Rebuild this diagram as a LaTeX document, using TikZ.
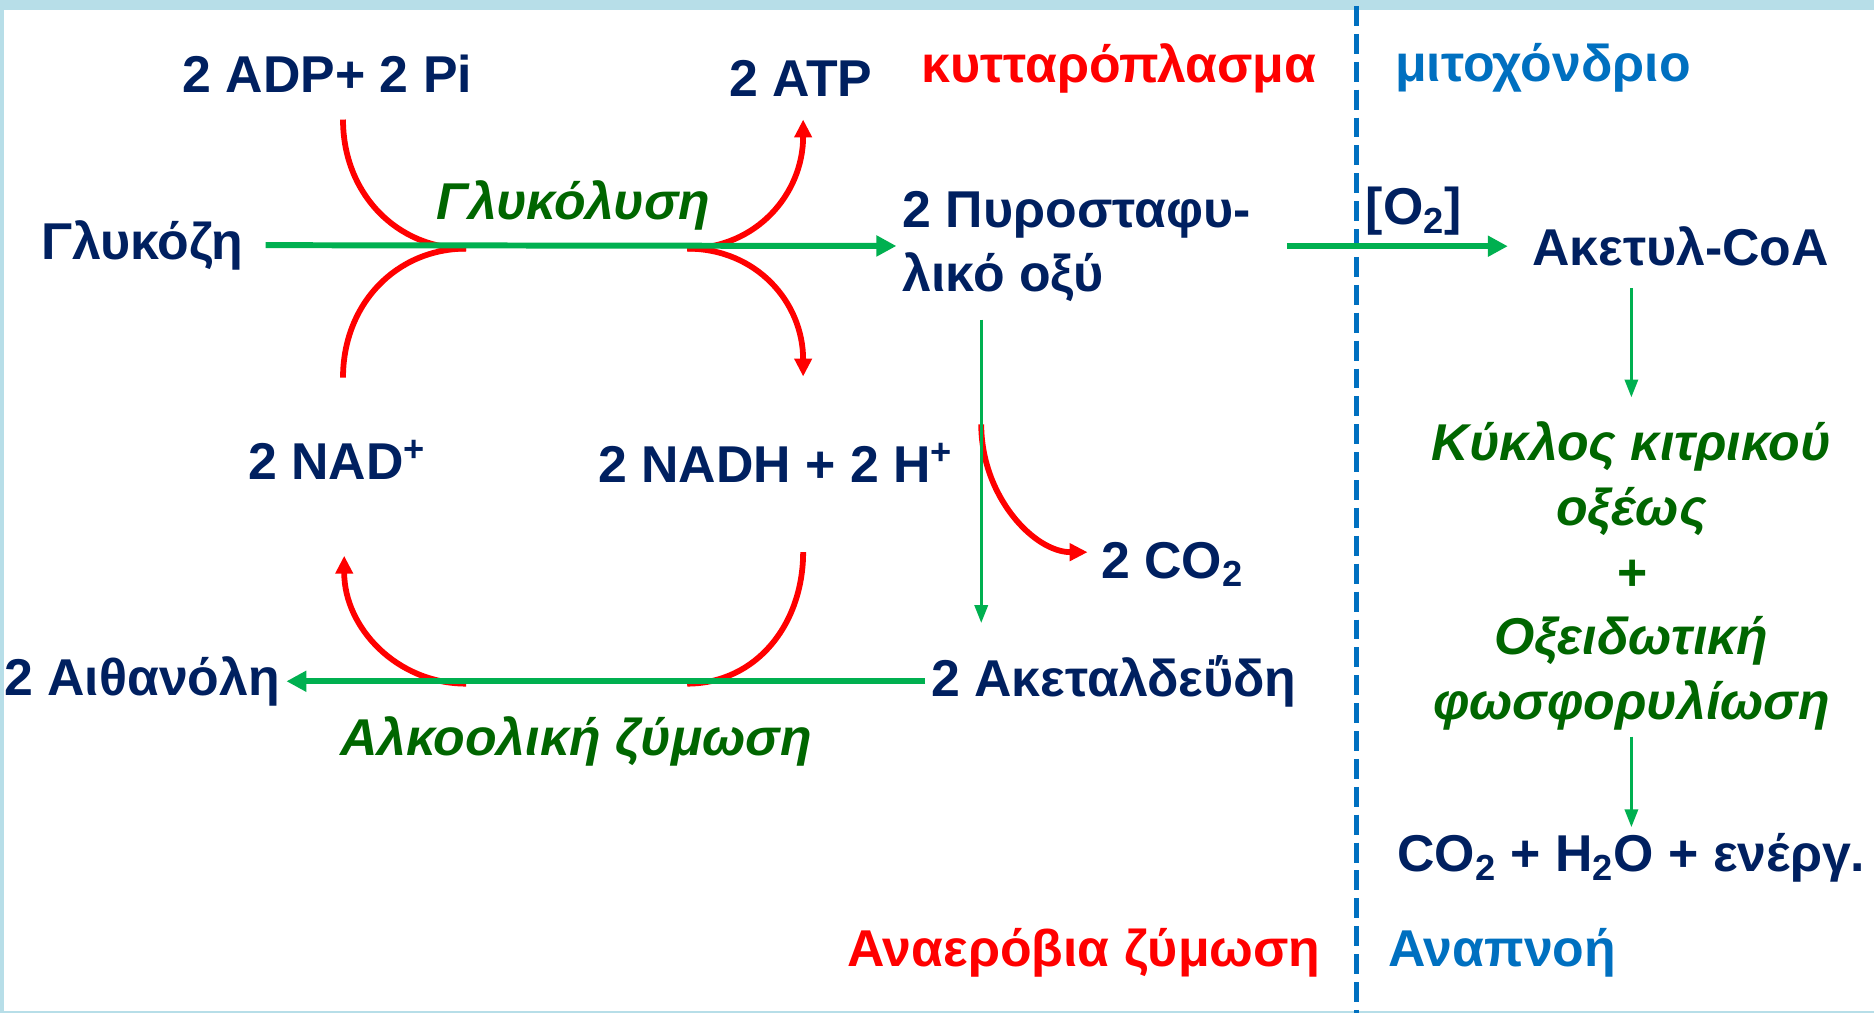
\documentclass[tikz,border=0pt]{standalone}
\usepackage{fontspec}
\setmainfont{Liberation Sans}
\usepackage{xcolor}
\usetikzlibrary{arrows.meta}

\definecolor{navy}{HTML}{002060}
\definecolor{arrowgreen}{HTML}{00B050}
\definecolor{procgreen}{HTML}{006600}
\definecolor{mitoblue}{HTML}{0070C0}
\definecolor{framecol}{HTML}{B7DEE8}

\begin{document}
\begin{tikzpicture}[x=0.6pt, y=-0.6pt,
    every node/.style={inner sep=3pt, text=navy,
        font=\fontsize{26}{32}\selectfont\bfseries},
    proc/.style={text=procgreen, font=\fontsize{26}{32.5}\selectfont\bfseries\itshape},
    region/.style={font=\fontsize{26}{32}\selectfont\bfseries},
    gline/.style={draw=arrowgreen, line width=3pt, -{Triangle[length=10pt, width=10pt]}},
    gthin/.style={draw=arrowgreen, line width=1.7pt, -{Triangle[length=9pt, width=6.5pt]}},
    rarc/.style={draw=red, line width=2.9pt},
    rtip/.style={rarc, -{Triangle[length=9pt, width=8.5pt]}}]
    % frame
    \fill[framecol] (0,0) rectangle (1568,847.6);
    \fill[white] (3,8) rectangle (1568,846);
    \useasboundingbox (0,0) rectangle (1568,847.6);
    \draw[mitoblue, line width=2.6pt, dash pattern=on 10pt off 4pt] (1135,5) -- (1135,847.6);

    % metabolites
    \node (adp) at (274,62) {2 ADP+ 2 Pi};
    \node (atp) at (670,66) {2 ATP};
    \node[region, text=red] (cyto) at (936,57) {κυτταρόπλασμα};
    \node[region, text=mitoblue] (mito) at (1291,57) {μιτοχόνδριο};
    \node (gluc) at (119,205) {Γλυκόζη};
    \node[proc] (glyc) at (480,172) {Γλυκόλυση};
    \node[anchor=west, align=left] (pyr) at (750,206) {2 Πυροσταφυ-\\λικό οξύ};
    \node (nad) at (282,385) {2 NAD\textsuperscript{+}};
    \node (nadh) at (649,387) {2 NADH + 2 H\textsuperscript{+}};
    \node (co2) at (981,472) {2 CO\textsubscript{2}};
    \node (eth) at (119,570) {2 Αιθανόλη};
    \node (acet) at (932,570) {2 Ακεταλδεΰδη};
    \node[proc] (alc) at (482,620) {Αλκοολική ζύμωση};
    \node (o2) at (1183,177) {[O\textsubscript{2}]};
    \node (acoa) at (1406,206) {Ακετυλ-CoA};
    \node[proc, align=center] (krebs) at (1365,482) {Κύκλος κιτρικού\\οξέως\\+\\Οξειδωτική\\φωσφορυλίωση};
    \node (prod) at (1365,718) {CO\textsubscript{2} + H\textsubscript{2}O + ενέργ.};
    \node[region, text=red] (anaer) at (907,797) {Αναερόβια ζύμωση};
    \node[region, text=mitoblue] (resp) at (1257,797) {Αναπνοή};

    % arc ends
    \coordinate (gL) at (390,208);
    \coordinate (gR) at (575,208);
    \coordinate (adpin) at (287,100);
    \coordinate (nadin) at (287,316);
    \coordinate (atpout) at (672,100);
    \coordinate (nadhout) at (672,315);
    \coordinate (bL) at (390,572);
    \coordinate (bR) at (575,572);
    \coordinate (nadret) at (288,465);
    \coordinate (nadhin) at (672,462);
    \coordinate (co2in) at (821,355);
    \coordinate (co2out) at (910,462);

    \draw[rarc] (adpin) .. controls +(0,62) and +(-58,0) .. (gL);
    \draw[rarc] (nadin) .. controls +(0,-62) and +(-58,0) .. (gL);
    \draw[rtip] (gR) .. controls +(58,0) and +(0,62) .. (atpout);
    \draw[rtip] (gR) .. controls +(58,0) and +(0,-62) .. (nadhout);
    \draw[rtip] (bL) .. controls +(-58,0) and +(0,60) .. (nadret);
    \draw[rarc] (nadhin) .. controls +(0,60) and +(58,0) .. (bR);
    \draw[rtip] (co2in) .. controls +(0,60) and +(-45,0) .. (co2out);

    % pathway
    \draw[gline, shorten <=8pt] (gluc) -- (pyr);
    \draw[gline] (acet) -- (eth);
    \draw[gthin, shorten <=6pt, shorten >=13pt] (pyr.south -| co2in) -- (acet.north -| co2in);
    \draw[gline, shorten <=15pt, shorten >=9pt] (pyr.east |- acoa) -- (acoa);
    \draw[gthin, shorten <=8pt, shorten >=9pt] (acoa.south -| krebs) -- (krebs.north);
    \draw[gthin] (krebs.south) -- (prod.north);
\end{tikzpicture}
\end{document}
